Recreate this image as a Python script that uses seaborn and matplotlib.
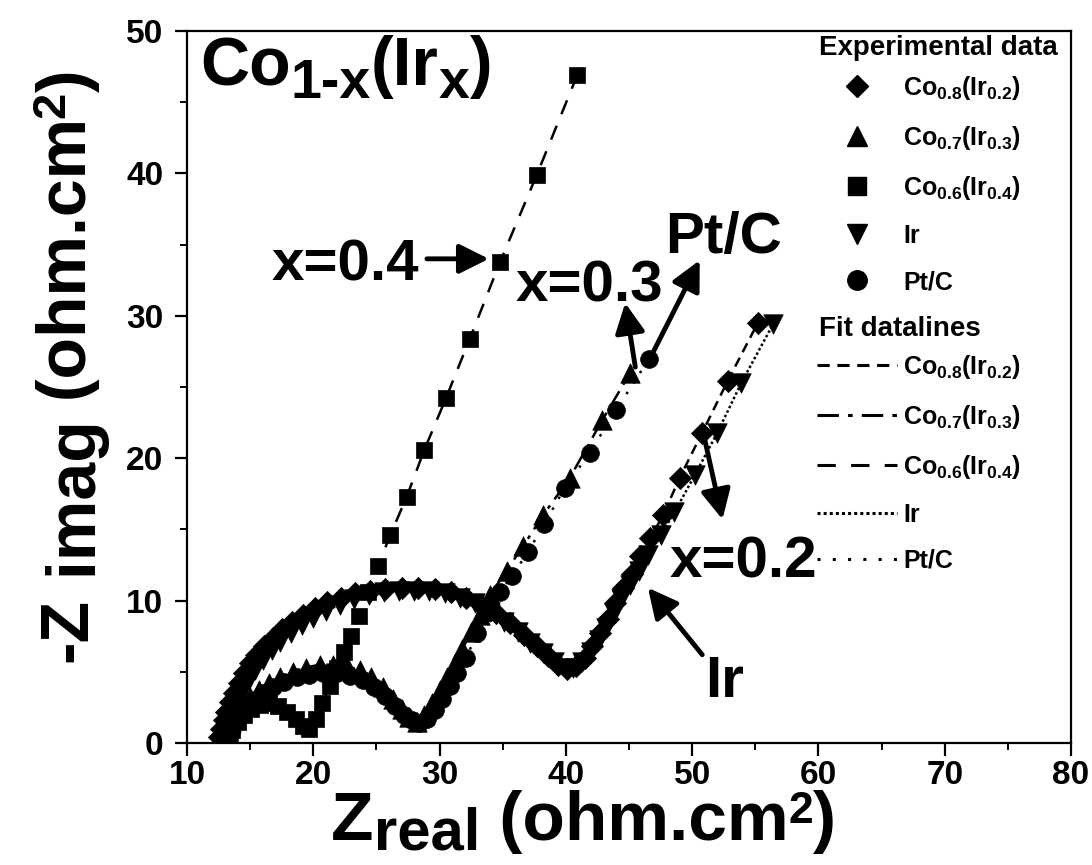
import matplotlib
matplotlib.use("Agg")
import matplotlib.pyplot as plt
import seaborn as sns
from matplotlib.lines import Line2D
from matplotlib.ticker import MultipleLocator
from matplotlib.transforms import IdentityTransform

# Nyquist data (Z real, -Z imag) in ohm.cm^2
co08_x = [12.5, 12.7, 12.9, 13.1, 13.4, 13.7, 14.1, 14.5, 15.0, 15.5, 16.1, 16.8, 17.5, 18.3, 19.2,
          20.1, 21.1, 22.2, 23.3, 24.5, 25.7, 27.0, 28.3, 29.6, 30.9, 32.1, 33.3, 34.5, 35.6, 36.7,
          37.7, 38.6, 39.4, 40.1, 40.8, 41.5, 42.1, 42.7, 43.3, 43.9, 44.5, 45.2, 45.9, 46.7, 47.7,
          49.0, 50.8, 52.8, 55.2]
co08_y = [0.4, 1.0, 1.6, 2.2, 2.9, 3.5, 4.2, 4.9, 5.6, 6.2, 6.8, 7.4, 8.0, 8.5, 9.0,
          9.5, 9.9, 10.2, 10.5, 10.7, 10.8, 10.9, 10.9, 10.8, 10.6, 10.2, 9.7, 9.1, 8.4, 7.6,
          6.8, 6.1, 5.5, 5.2, 5.4, 6.0, 6.8, 7.7, 8.7, 9.8, 10.9, 11.9, 13.1, 14.4, 16.0,
          18.6, 21.8, 25.4, 29.5]

co07_x = [13.0, 13.2, 13.5, 13.9, 14.4, 15.0, 15.7, 16.5, 17.4, 18.4, 19.4, 20.5, 21.6, 22.7, 23.7,
          24.6, 25.5, 26.3, 27.0, 27.6, 28.2, 28.8, 29.4, 30.0, 30.6, 31.2, 31.8, 32.5, 33.2, 34.0,
          35.3, 36.6, 38.2, 40.3, 42.9, 45.1]
co07_y = [0.3, 0.9, 1.5, 2.1, 2.7, 3.2, 3.7, 4.2, 4.6, 5.0, 5.3, 5.5, 5.5, 5.4, 5.1,
          4.6, 3.9, 3.1, 2.4, 1.8, 1.5, 2.0, 2.8, 3.7, 4.6, 5.6, 6.6, 7.8, 9.0, 10.4,
          12.1, 13.8, 16.0, 18.6, 22.7, 26.0]

co06_x = [13.3, 13.6, 14.0, 14.5, 15.1, 15.8, 16.5, 17.2, 17.9, 18.6, 19.2, 19.7, 20.2, 20.7, 21.3,
          21.9, 22.4, 23.0, 23.6, 24.3, 25.1, 26.1, 27.4, 28.8, 30.5, 32.4, 34.8, 37.7, 40.9]
co06_y = [0.3, 0.9, 1.5, 2.0, 2.4, 2.7, 2.8, 2.6, 2.2, 1.7, 1.2, 1.0, 1.7, 2.8, 4.0,
          5.3, 6.4, 7.5, 8.9, 10.6, 12.4, 14.6, 17.3, 20.6, 24.2, 28.4, 33.8, 39.9, 46.9]

ir_x = [13.0, 13.2, 13.4, 13.7, 14.0, 14.4, 14.9, 15.4, 16.0, 16.7, 17.4, 18.2, 19.1, 20.0, 21.0,
        22.1, 23.2, 24.4, 25.6, 26.8, 28.0, 29.2, 30.4, 31.6, 32.8, 34.0, 35.1, 36.2, 37.2, 38.2,
        39.1, 39.9, 40.6, 41.3, 42.0, 42.6, 43.2, 43.8, 44.4, 45.1, 45.8, 46.5, 47.5, 48.6, 50.2,
        52.0, 53.9, 56.4]
ir_y = [0.4, 1.0, 1.6, 2.3, 3.0, 3.7, 4.4, 5.1, 5.8, 6.5, 7.1, 7.7, 8.3, 8.8, 9.3,
        9.7, 10.1, 10.4, 10.6, 10.7, 10.7, 10.7, 10.5, 10.2, 9.8, 9.2, 8.5, 7.8, 7.0, 6.3,
        5.7, 5.3, 5.3, 5.7, 6.4, 7.2, 8.1, 9.1, 10.1, 11.1, 12.1, 13.2, 14.6, 16.2, 18.8,
        21.8, 25.3, 29.4]

ptc_x = [13.3, 13.5, 13.8, 14.2, 14.7, 15.3, 16.0, 16.8, 17.7, 18.7, 19.7, 20.8, 21.9, 22.9, 23.9,
         24.8, 25.7, 26.5, 27.2, 27.8, 28.4, 29.0, 29.6, 30.2, 30.8, 31.4, 32.1, 33.0, 33.9, 34.8,
         35.7, 37.0, 38.3, 39.9, 41.9, 44.0, 46.6]
ptc_y = [0.3, 0.8, 1.4, 2.0, 2.5, 3.0, 3.5, 3.9, 4.3, 4.6, 4.8, 4.9, 4.9, 4.7, 4.4,
         3.9, 3.3, 2.6, 2.0, 1.6, 1.4, 1.7, 2.3, 3.1, 4.0, 4.9, 6.0, 7.7, 9.2, 10.6,
         11.7, 13.4, 15.4, 17.9, 20.4, 23.4, 27.0]

labels = [r"Co$_{0.8}$(Ir$_{0.2}$)", r"Co$_{0.7}$(Ir$_{0.3}$)", r"Co$_{0.6}$(Ir$_{0.4}$)", "Ir", "Pt/C"]
x_ticks = [10, 20, 30, 40, 50, 60, 70, 80]
y_ticks = [0, 10, 20, 30, 40, 50]

sns.set_theme(style="ticks")
plt.rcParams.update({
    "font.family": ["Liberation Sans", "DejaVu Sans"],
    "font.weight": "bold",
    "axes.labelweight": "bold",
    "mathtext.fontset": "custom",
    "mathtext.rm": "Liberation Sans:bold",
    "mathtext.it": "Liberation Sans:bold",
    "mathtext.bf": "Liberation Sans:bold",
    "mathtext.sf": "Liberation Sans:bold",
    "axes.linewidth": 1.6,
    "axes.edgecolor": "black",
    "text.color": "black",
    "xtick.color": "black",
    "ytick.color": "black",
})

series = [
    (co08_x, co08_y, "D", 11.3, (0, (4, 2.5))),
    (co07_x, co07_y, "^", 14.0, (0, (7, 3, 1.5, 3))),
    (co06_x, co06_y, "s", 12.0, (0, (6, 5))),
    (ir_x, ir_y, "v", 14.0, (0, (1, 1))),
    (ptc_x, ptc_y, "o", 12.8, (0, (1, 4))),
]

W, H = 1092, 865
fig = plt.figure(figsize=(W / 100, H / 100), dpi=100)
ax = fig.add_axes([187 / W, 1 - 743 / H, (1071 - 187) / W, (743 - 31) / H])

# fit curves
for xs, ys, mk, ms, ls in series:
    sns.lineplot(x=xs, y=ys, sort=False, estimator=None, color="black", lw=1.8,
                 linestyle=ls, ax=ax, zorder=2)
# measured points
for xs, ys, mk, ms, ls in series:
    sns.scatterplot(x=xs, y=ys, marker=mk, s=ms ** 2, color="black", edgecolor="black",
                    linewidth=0.5, ax=ax, zorder=3)

ax.set_xlim(10, 80)
ax.set_ylim(0, 50)
ax.set_xticks(x_ticks)
ax.set_yticks(y_ticks)
ax.xaxis.set_minor_locator(MultipleLocator(5))
ax.yaxis.set_minor_locator(MultipleLocator(5))
ax.tick_params(which="major", direction="out", length=9, width=1.6, labelsize=24, pad=3)
ax.tick_params(which="minor", direction="out", length=5, width=1.4)
ax.tick_params(axis="y", which="major", pad=8)
for lab in ax.get_xticklabels() + ax.get_yticklabels():
    lab.set_fontweight("bold")
ax.set_xlabel("")
ax.set_ylabel("")

fig.canvas.draw()
renderer = fig.canvas.get_renderer()


def row_text(x0, base, pieces):
    """Write pieces left to right; base is the baseline, in px from the top."""
    dx = 0.0
    for s, size, drop in pieces:
        t = fig.text(x0 + dx, H - (base + drop), s, transform=IdentityTransform(),
                     fontsize=size, fontweight="bold", ha="left", va="baseline")
        dx += t.get_window_extent(renderer).width


def column_text(base_x, y0, pieces):
    """Write pieces bottom to top, rotated; base_x is the baseline, y0 the start, in px."""
    dy = 0.0
    for s, size, drop in pieces:
        t = fig.text(base_x + drop, H - y0 + dy, s, transform=IdentityTransform(),
                     fontsize=size, fontweight="bold", ha="left", va="baseline",
                     rotation=90, rotation_mode="anchor")
        dy += t.get_window_extent(renderer).height


# axis titles
row_text(331, 840, [("Z", 50, 0), ("real", 43, 9), (" (ohm.cm", 50, 0), ("2", 32, -17), (")", 50, 0)])
column_text(86, 662, [("-Z", 49, 0), (" imag", 49, 10), (" (ohm.cm", 49, 0), ("2", 34, -22), (")", 49, 0)])

# composition label
row_text(200, 85, [("Co", 49, 0), ("1-x", 40, 13), ("(Ir", 49, 0), ("x", 40, 13), (")", 49, 0)])

# annotations
arrow_kw = dict(arrowstyle="-|>,head_length=0.9,head_width=0.45", lw=3.5, color="black",
                shrinkA=0, shrinkB=0, mutation_scale=20)
notes = [
    ("x=0.4", (16.7, 32.5), (29.0, 34.0), (33.9, 34.0)),
    ("x=0.3", (36.0, 31.0), (45.5, 26.4), (44.7, 30.9)),
    ("Pt/C", (47.9, 34.4), (46.6, 26.9), (50.6, 33.9)),
    ("x=0.2", (48.2, 11.6), (51.0, 21.3), (52.4, 15.7)),
    ("Ir", (51.0, 3.2), (50.8, 6.2), (46.5, 10.9)),
]
for txt, tpos, tail, tip in notes:
    ax.text(tpos[0], tpos[1], txt, fontsize=42, fontweight="bold", ha="left", va="baseline")
    ax.annotate("", xy=tip, xytext=tail, arrowprops=arrow_kw)

# legends
row_text(819, 55, [("Experimental data", 20, 0)])
row_text(819, 336, [("Fit datalines", 20, 0)])

mk_handles = [Line2D([], [], marker=m, ls="none", color="black", markersize=s)
              for m, s in zip(["D", "^", "s", "v", "o"], [11, 15, 13, 15, 14])]
ln_handles = [Line2D([], [], ls=s[4], lw=2.2, color="black") for s in series]

common = dict(loc="upper left", bbox_transform=fig.transFigure, frameon=False, fontsize=18,
              handlelength=3.2, handletextpad=0.25, labelspacing=0.88, borderpad=0,
              borderaxespad=0)
leg1 = ax.legend(handles=mk_handles, labels=labels, bbox_to_anchor=(817 / W, 1 - 74 / H), **common)
ax.add_artist(leg1)
leg2 = ax.legend(handles=ln_handles, labels=labels, bbox_to_anchor=(817 / W, 1 - 353 / H), **common)
for lg in (leg1, leg2):
    for t in lg.get_texts():
        t.set_fontweight("bold")

fig.savefig("out.png", dpi=100)
